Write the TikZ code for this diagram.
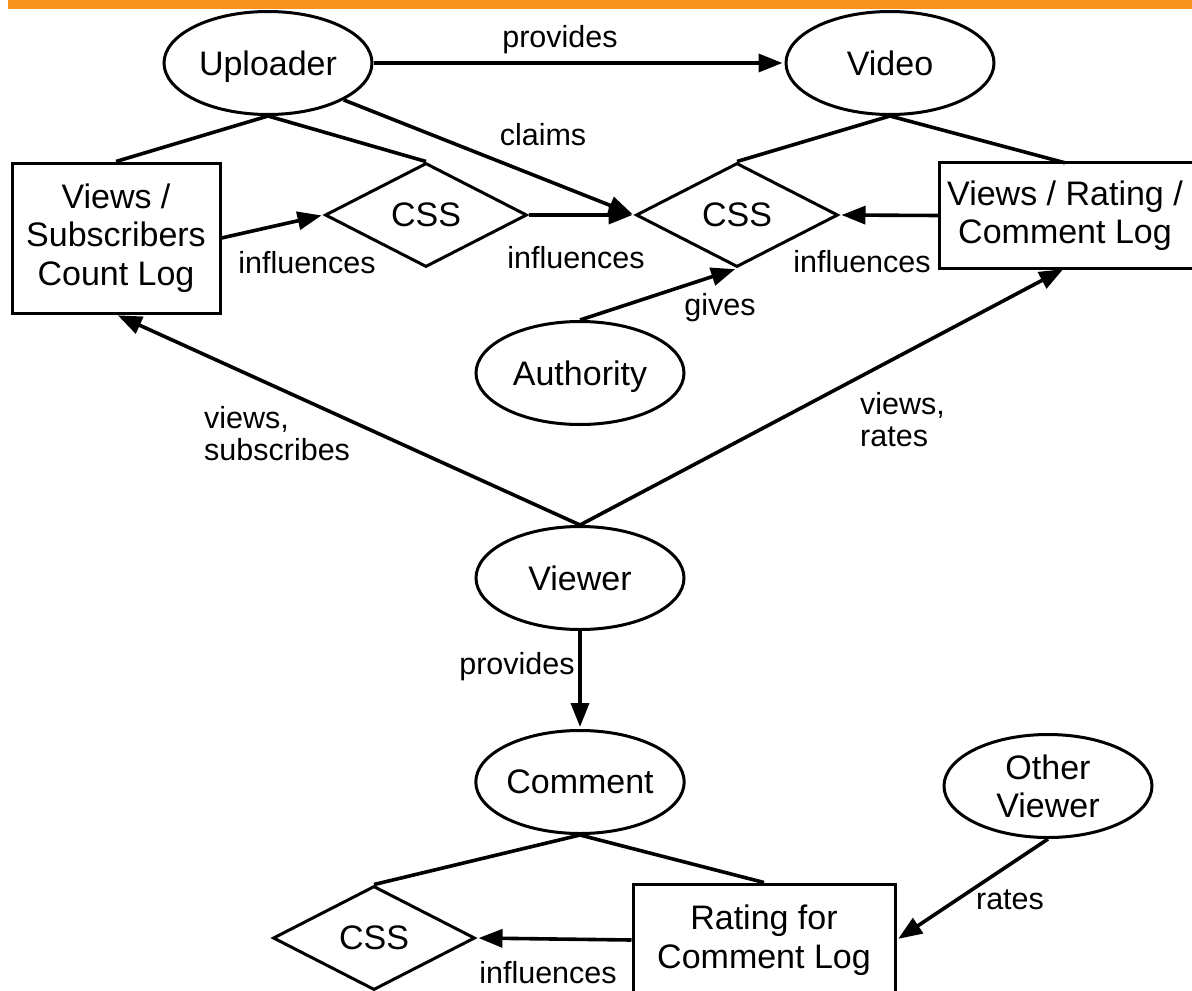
\documentclass[tikz,border=0pt]{standalone}
\usepackage{fontspec}
\setmainfont{Liberation Sans}
\usetikzlibrary{shapes.geometric,arrows.meta}
\definecolor{barorange}{RGB}{247,148,30}
\begin{document}
\begin{tikzpicture}[x=1pt,y=-1pt,
  every node/.style={inner sep=0pt, font=\fontsize{34}{38.5}\selectfont},
  ent/.style={draw, line width=3pt, ellipse, minimum width=208pt, minimum height=103pt, align=center, text depth=0pt},
  box/.style={draw, line width=3pt, rectangle, align=center},
  rel/.style={draw, line width=3pt, diamond, minimum width=202pt, minimum height=104pt},
  conn/.style={line width=3.6pt},
  arr/.style={conn, -{Triangle[length=24pt,width=18pt]}, shorten >=2pt},
  lbl/.style={font=\fontsize{30.5}{32}\selectfont, align=left}
]
\useasboundingbox (0,0) rectangle (1192,991);
\clip (0,0) rectangle (1192,991);
\fill[white] (0,0) rectangle (1192,991);
\fill[barorange] (8,0) rectangle (1192,9);

% entities
\node[ent] (up) at (268,63) {Uploader};
\node[ent] (vid) at (890,63) {Video};
\node[box, minimum width=208pt, minimum height=150pt] (vs) at (116,238) {Views /\\Subscribers\\Count Log};
\node[rel] (css1) at (426,215) {CSS};
\node[rel] (css2) at (737,215) {CSS};
\node[minimum width=250pt, minimum height=105pt, align=center] (vr) at (1065,215.5) {Views / Rating /\\Comment Log};
\draw[line width=3pt] ([xshift=20pt]vr.north east) -- (vr.north west) -- (vr.south west) -- ([xshift=20pt]vr.south east);
\node[ent] (auth) at (580,373) {Authority};
\node[ent] (viewer) at (580,578) {Viewer};
\node[ent] (com) at (580,782) {Comment};
\node[ent] (ov) at (1048,786) {Other\\Viewer};
\node[rel] (css3) at (374,938) {CSS};
\node[box, minimum width=262pt, minimum height=112pt] (rc) at (764,940) {Rating for\\Comment Log};

% connectors
\draw[arr] (up.east) -- (vid.west);
\draw[conn] (up.south) -- (vs.north);
\draw[conn] (up.south) -- (css1.north);
\draw[arr] (up.-26) -- (css2.west);
\draw[conn] (vid.south) -- (css2.north);
\draw[conn] (vid.south) -- (vr.north);
\draw[arr] (vs.east) -- (css1.west);
\draw[arr] (css1.east) -- (css2.west);
\draw[arr] (vr.west) -- (css2.east);
\draw[arr] (auth.north) -- (css2.south);
\draw[arr] (viewer.north) -- (vs.south);
\draw[arr] (viewer.north) -- (vr.south);
\draw[arr] (viewer.south) -- (com.north);
\draw[conn] (com.south) -- (css3.north);
\draw[conn] (com.south) -- (rc.north);
\draw[arr] (rc.west) -- (css3.east);
\draw[arr] (ov.south) -- (rc.east);

% labels
\node[lbl] (l1) at (560,40) {provides};
\node[lbl] (l2) at (543,135) {claims};
\node[lbl] (l3) at (307,263) {influences};
\node[lbl] (l4) at (576,258) {influences};
\node[lbl] (l5) at (862,262) {influences};
\node[lbl] (l6) at (720,308) {gives};
\node[lbl, anchor=west] (l7) at (204,434) {views,\\subscribes};
\node[lbl, anchor=west] (l8) at (860,420) {views,\\rates};
\node[lbl] (l9) at (517,667) {provides};
\node[lbl] (l10) at (1010,900) {rates};
\node[lbl] (l11) at (548,973) {influences};
\end{tikzpicture}
\end{document}
